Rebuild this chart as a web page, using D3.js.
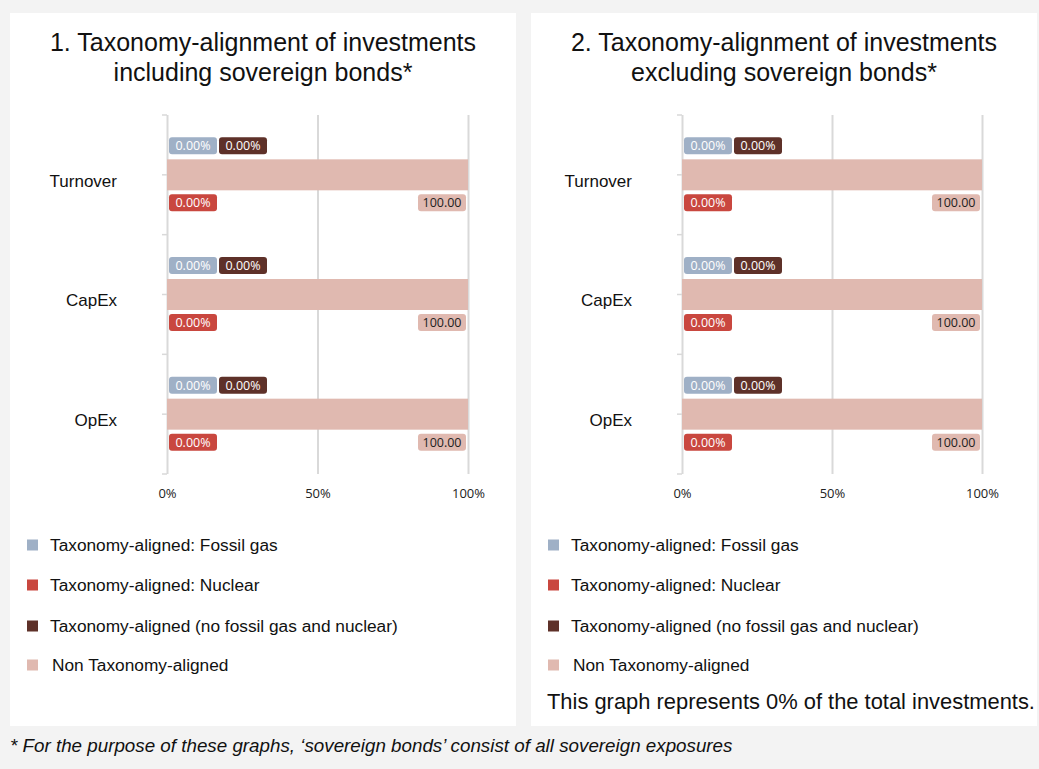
<!DOCTYPE html>
<html>
<head>
<meta charset="utf-8">
<script src="https://cdn.jsdelivr.net/npm/d3@7"></script>
<style>
  html, body { margin: 0; padding: 0; background: #f3f3f3; }
  svg { display: block; }
</style>
</head>
<body>
<div id="chart"></div>
<script>
// data
const categories = ["Turnover", "CapEx", "OpEx"];
const seriesNames = [
    "Taxonomy-aligned: Fossil gas",
    "Taxonomy-aligned: Nuclear",
    "Taxonomy-aligned (no fossil gas and nuclear)",
    "Non Taxonomy-aligned"
];
const fossilGasIncl = [0, 0, 0];
const nuclearIncl = [0, 0, 0];
const alignedIncl = [0, 0, 0];
const nonAlignedIncl = [100, 100, 100];
const fossilGasExcl = [0, 0, 0];
const nuclearExcl = [0, 0, 0];
const alignedExcl = [0, 0, 0];
const nonAlignedExcl = [100, 100, 100];
const xTicks = [0, 50, 100];
const colors = ["#9fb0c6", "#c9473f", "#5e3129", "#e0b9b0"];
const labelColors = ["#ffffff", "#ffffff", "#ffffff", "#222222"];

const W = 1039, H = 769;
const svg = d3.select("#chart").append("svg")
    .attr("width", W)
    .attr("height", H);

svg.append("rect").attr("width", W).attr("height", H).attr("fill", "#f3f3f3");

function drawPanel(panelX, plotLeft, plotRight, titleLines, series, note) {
    const panelW = 506;
    const g = svg.append("g");

    g.append("rect")
        .attr("x", panelX).attr("y", 13)
        .attr("width", panelW).attr("height", 713)
        .attr("fill", "white");

    const title = g.append("text")
        .attr("text-anchor", "middle")
        .attr("font-family", "Liberation Sans, Arial, sans-serif")
        .attr("font-size", "25px")
        .attr("fill", "#111");
    titleLines.forEach((t, i) => {
        title.append("tspan")
            .attr("x", panelX + panelW / 2)
            .attr("y", 51 + i * 30)
            .text(t);
    });

    const top = 115, bottom = 474;
    const x = d3.scaleLinear().domain([0, 100]).range([plotLeft, plotRight]);
    const y = d3.scaleBand().domain(categories).range([top, bottom]);

    // gridlines
    g.append("g")
        .attr("transform", `translate(0,${bottom})`)
        .call(d3.axisBottom(x).tickValues(xTicks).tickSize(-(bottom - top)).tickFormat(""))
        .call(s => s.select(".domain").remove())
        .call(s => s.selectAll("line").attr("stroke", "#d9d9d9").attr("stroke-width", 2));

    // tick labels
    g.append("g")
        .attr("transform", `translate(0,${bottom})`)
        .call(d3.axisBottom(x).tickValues(xTicks).tickSize(0).tickFormat(d => d + "%"))
        .call(s => s.select(".domain").remove())
        .call(s => s.selectAll("text")
            .attr("y", 24).attr("dy", 0)
            .attr("fill", "#222")
            .attr("font-family", "Open Sans, sans-serif")
            .attr("font-size", "13px"));

    // y axis with category labels
    g.append("g")
        .attr("transform", `translate(${plotLeft},0)`)
        .call(d3.axisLeft(y).tickSize(5).tickPadding(45))
        .call(s => s.select(".domain").remove())
        .call(s => s.selectAll("line").attr("stroke", "#d9d9d9").attr("stroke-width", 1.5))
        .call(s => s.selectAll("text")
            .attr("dy", "0.7em")
            .attr("fill", "#111")
            .attr("font-family", "Liberation Sans, Arial, sans-serif")
            .attr("font-size", "17px"));

    // boundary ticks
    const bounds = categories.map(c => y(c)).concat([bottom]);
    g.selectAll(".btick").data(bounds).enter().append("line")
        .attr("x1", plotLeft - 5).attr("x2", plotLeft)
        .attr("y1", d => d).attr("y2", d => d)
        .attr("stroke", "#d9d9d9").attr("stroke-width", 1.5);

    // stacked bars
    const rows = categories.map((c, i) => {
        const r = { cat: c };
        series.forEach((s, k) => r["s" + k] = s[i]);
        return r;
    });
    const keys = series.map((s, k) => "s" + k);
    const stacked = d3.stack().keys(keys)(rows);
    const barH = 31;

    stacked.forEach((layer, k) => {
        g.selectAll(".bar" + k).data(layer).enter().append("rect")
            .attr("x", d => x(d[0]))
            .attr("y", d => y(d.data.cat) + y.bandwidth() / 2 - barH / 2)
            .attr("width", d => x(d[1]) - x(d[0]))
            .attr("height", barH)
            .attr("fill", colors[k]);
    });

    // data labels
    const boxW = 48, boxH = 17;
    const fmt = d3.format(".2f");
    stacked.forEach((layer, k) => {
        layer.forEach(d => {
            const cy = y(d.data.cat) + y.bandwidth() / 2;
            let bx, by;
            if (k === 0) { bx = x(d[0]) + 2; by = cy - barH / 2 - 5 - boxH; }
            else if (k === 2) { bx = x(d[0]) + 4 + boxW; by = cy - barH / 2 - 5 - boxH; }
            else if (k === 1) { bx = x(d[0]) + 2; by = cy + barH / 2 + 4; }
            else { bx = x(d[1]) - 2 - boxW; by = cy + barH / 2 + 4; }
            const val = d.data["s" + k];
            g.append("rect")
                .attr("x", bx).attr("y", by)
                .attr("width", boxW).attr("height", boxH)
                .attr("rx", 3)
                .attr("fill", colors[k]);
            g.append("text")
                .attr("x", bx + boxW / 2).attr("y", by + boxH / 2)
                .attr("dy", "0.36em")
                .attr("text-anchor", "middle")
                .attr("fill", labelColors[k])
                .attr("font-family", "Open Sans, sans-serif")
                .attr("font-size", "12.5px")
                .text(k === 3 ? fmt(val) : fmt(val) + "%");
        });
    });

    // legend
    const legendY = [545, 585, 626, 665];
    seriesNames.forEach((name, k) => {
        g.append("rect")
            .attr("x", panelX + 17).attr("y", legendY[k] - 5.5)
            .attr("width", 11).attr("height", 11)
            .attr("fill", colors[k]);
        g.append("text")
            .attr("x", panelX + (k === 3 ? 42 : 40)).attr("y", legendY[k])
            .attr("dy", "0.36em")
            .attr("fill", "#111")
            .attr("font-family", "Liberation Sans, Arial, sans-serif")
            .attr("font-size", "17.3px")
            .text(name);
    });

    if (note) {
        g.append("text")
            .attr("x", panelX + 16).attr("y", 709)
            .attr("fill", "#111")
            .attr("font-family", "Liberation Sans, Arial, sans-serif")
            .attr("font-size", "21.9px")
            .text(note);
    }
}

drawPanel(10, 167, 468,
    ["1. Taxonomy-alignment of investments", "including sovereign bonds*"],
    [fossilGasIncl, nuclearIncl, alignedIncl, nonAlignedIncl], null);
drawPanel(531, 682, 982,
    ["2. Taxonomy-alignment of investments", "excluding sovereign bonds*"],
    [fossilGasExcl, nuclearExcl, alignedExcl, nonAlignedExcl],
    "This graph represents 0% of the total investments.");

svg.append("text")
    .attr("x", 10).attr("y", 752)
    .attr("fill", "#111")
    .attr("font-family", "Liberation Sans, Arial, sans-serif")
    .attr("font-style", "italic")
    .attr("font-size", "18.8px")
    .text("* For the purpose of these graphs, \u2018sovereign bonds\u2019 consist of all sovereign exposures");
</script>
</body>
</html>
